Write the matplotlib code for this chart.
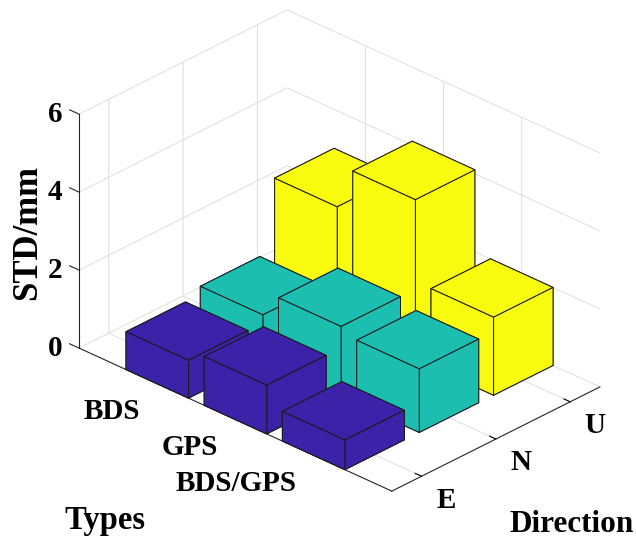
"""3-D bar chart of STD per positioning type and direction (MATLAB bar3 look)."""

import matplotlib
matplotlib.use("Agg")
import matplotlib.pyplot as plt
import numpy as np
from mpl_toolkits.mplot3d import proj3d

types = ["BDS", "GPS", "BDS/GPS"]
directions = ["E", "N", "U"]
std_e = [0.97, 1.25, 0.76]
std_n = [1.18, 1.80, 1.63]
std_u = [3.00, 4.10, 2.00]
z_ticks = [0, 2, 4, 6]
colors = ["#3B22A8", "#1BBEAF", "#F9FB0E"]

plt.rcParams["font.family"] = ["Liberation Serif", "DejaVu Serif"]
plt.rcParams["font.weight"] = "bold"
plt.rcParams["grid.color"] = "#DEDEDE"
plt.rcParams["grid.linewidth"] = 0.7

W, H = 636, 541
AXIS_COLOR = "#262626"
fig = plt.figure(figsize=(W / 100, H / 100), dpi=100)
ax = fig.add_axes([0.05, 0.05, 0.9, 0.9], projection="3d", computed_zorder=False)
ax.set_proj_type("ortho")
ax.view_init(elev=28.6, azim=-46.3)
xlim, ylim, zlim = (0, 4), (0.6, 3.4), (0, 6)
ax.set_xlim(*xlim)
ax.set_ylim(*ylim)
ax.set_zlim(*zlim)
ax.set_box_aspect((432.7, 301.3, 266.5))

xs = np.arange(1, len(types) + 1)
ys = np.arange(1, len(directions) + 1)
ax.set_xticks(xs)
ax.set_yticks(ys)
ax.set_zticks(z_ticks)

for axis in (ax.xaxis, ax.yaxis, ax.zaxis):
    axis.set_pane_color((1, 1, 1, 0))
    axis.pane.set_edgecolor((1, 1, 1, 0))
    axis.line.set_color(AXIS_COLOR)
    axis.line.set_linewidth(0.8)
    axis.set_tick_params(labelbottom=False, labeltop=False)
    axis._axinfo["tick"]["inward_factor"] = 0.0
    axis._axinfo["tick"]["outward_factor"] = 0.25
    axis._axinfo["tick"]["linewidth"] = {True: 0.8, False: 0.5}
    axis._axinfo["tick"]["color"] = AXIS_COLOR
ax.grid(True)

# matplotlib puts the z axis on the right edge for this view; MATLAB has it
# on the left corner, so hide the built-in one and draw it there
ax.zaxis.line.set_color((1, 1, 1, 0))
ax.zaxis._axinfo["tick"]["outward_factor"] = 0.0
ax.plot([xlim[0]] * 2, [ylim[0]] * 2, zlim, color=AXIS_COLOR, lw=0.8)
for z in z_ticks:
    ax.plot([xlim[0], xlim[0] - 0.12], [ylim[0]] * 2, [z, z],
            color=AXIS_COLOR, lw=0.8)

# bars, drawn back to front (viewer sits at +x / -y)
heights = np.array([std_e, std_n, std_u])  # rows: direction, cols: type
az = np.deg2rad(-46.3)
bars = [(x, y, heights[j, i], colors[j])
        for j, y in enumerate(ys) for i, x in enumerate(xs)]
bars.sort(key=lambda b: b[0] * np.cos(az) + b[1] * np.sin(az))
for x, y, h, c in bars:
    ax.bar3d(x - 0.4, y - 0.4, 0, 0.8, 0.8, h, color=c, shade=False,
             edgecolor="#1a1a1a", linewidth=0.7)


def to_screen(x, y, z):
    """3-D data point -> display pixels (origin bottom-left)."""
    px, py, _ = proj3d.proj_transform(x, y, z, ax.get_proj())
    return ax.transData.transform((px, py))


# place the (square) 3-D axes so the floor box lands where it should
fig.canvas.draw()
corners = [(xlim[0], ylim[0], 0), (xlim[1], ylim[0], 0),
           (xlim[1], ylim[1], 0), (xlim[0], ylim[1], zlim[1])]
targets = np.array([(79, 348), (392, 491), (600, 387), (287, 10)], float)
bb = ax.get_position()
s0 = bb.width * W
c0 = np.array([(bb.x0 + bb.x1) / 2 * W, H - (bb.y0 + bb.y1) / 2 * H])
pts = []
for p in corners:
    dx, dy = to_screen(*p)
    pts.append((dx, H - dy))
q = (np.array(pts) - c0) / s0
qm, tm = q.mean(0), targets.mean(0)
s = ((targets - tm) * (q - qm)).sum() / ((q - qm) ** 2).sum()
c = tm - s * qm
ax.set_position([(c[0] - s / 2) / W, (H - c[1] - s / 2) / H, s / W, s / H])
fig.canvas.draw()


def label_at(x, y, z, text, **kw):
    dx, dy = to_screen(x, y, z)
    fig.text(dx / W, dy / H, text, fontsize=21, **kw)


# tick labels next to the axes
for x, lab in zip(xs, types):
    label_at(x, 0.37, -0.5, lab, ha="right", va="center")
for y, lab in zip(ys, directions):
    label_at(4.32, y, -0.32, lab, ha="center", va="center")
for z in z_ticks:
    label_at(-0.113, 0.49, z, str(z), ha="right", va="center")

fig.text(28 / W, 1 - 232 / H, "STD/mm", rotation=90, ha="center", va="center",
         fontsize=25)
fig.text(105 / W, 1 - 521 / H, "Types", ha="center", va="center", fontsize=23.5)
fig.text(509 / W, 1 - 525 / H, "Direction", ha="left", va="center", fontsize=22.5)

fig.savefig("out.png", dpi=100, facecolor="white")
